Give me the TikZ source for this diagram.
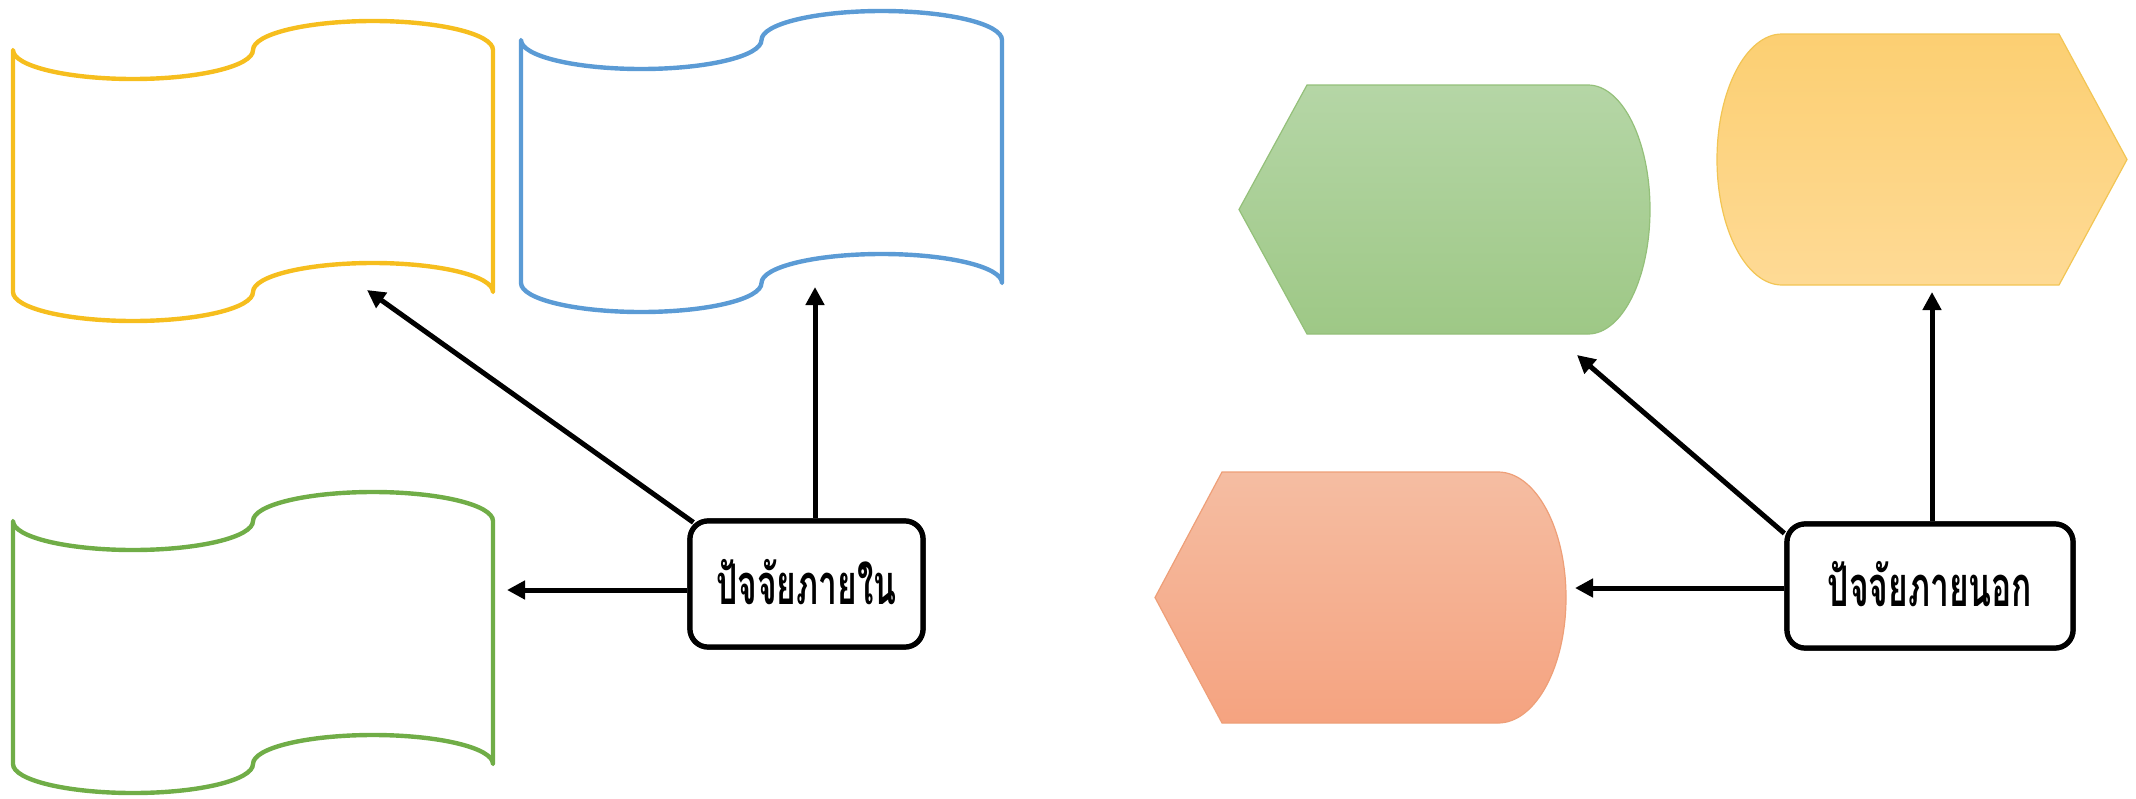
\documentclass[tikz,border=0pt]{standalone}
\usepackage{fontspec}
\newfontfamily\thaifont[Script=Thai]{Loma}
\usetikzlibrary{arrows.meta}
\definecolor{tapeY}{HTML}{F6BE1E}
\definecolor{tapeB}{HTML}{5B9BD5}
\definecolor{tapeG}{HTML}{70AD47}
\definecolor{gTop}{HTML}{B5D6A6}
\definecolor{gBot}{HTML}{9EC886}
\definecolor{gLine}{HTML}{94C07A}
\definecolor{yTop}{HTML}{FCCF72}
\definecolor{yBot}{HTML}{FEDA95}
\definecolor{yLine}{HTML}{F2C554}
\definecolor{oTop}{HTML}{F5BDA2}
\definecolor{oBot}{HTML}{F5A380}
\definecolor{oLine}{HTML}{EE9F78}
\newcommand\tapeshape[5]{%
 \pgfmathsetmacro\tL{#1}\pgfmathsetmacro\tT{#2}\pgfmathsetmacro\tR{#3}\pgfmathsetmacro\tB{#4}%
 \pgfmathsetmacro\tq{(\tR-\tL)/4}\pgfmathsetmacro\tM{(\tL+\tR)/2}%
 \pgfmathsetmacro\ta{29}\pgfmathsetmacro\tk{0.552}%
 \draw[tape,draw=#5] (\tL,\tT)
  .. controls (\tL,{\tT+\tk*\ta}) and ({\tL+\tq-\tk*\tq},{\tT+\ta}) .. ({\tL+\tq},{\tT+\ta})
  .. controls ({\tL+\tq+\tk*\tq},{\tT+\ta}) and (\tM,{\tT+\tk*\ta}) .. (\tM,\tT)
  .. controls (\tM,{\tT-\tk*\ta}) and ({\tM+\tq-\tk*\tq},{\tT-\ta}) .. ({\tM+\tq},{\tT-\ta})
  .. controls ({\tM+\tq+\tk*\tq},{\tT-\ta}) and (\tR,{\tT-\tk*\ta}) .. (\tR,\tT)
  -- (\tR,\tB)
  .. controls (\tR,{\tB-\tk*\ta}) and ({\tM+\tq+\tk*\tq},{\tB-\ta}) .. ({\tM+\tq},{\tB-\ta})
  .. controls ({\tM+\tq-\tk*\tq},{\tB-\ta}) and (\tM,{\tB-\tk*\ta}) .. (\tM,\tB)
  .. controls (\tM,{\tB+\tk*\ta}) and ({\tL+\tq+\tk*\tq},{\tB+\ta}) .. ({\tL+\tq},{\tB+\ta})
  .. controls ({\tL+\tq-\tk*\tq},{\tB+\ta}) and (\tL,{\tB+\tk*\ta}) .. (\tL,\tB)
  -- cycle;}
% display shape pointing left: left point x, flat-left x, flat-right x, right x, top, bottom
\newcommand\dispL[8]{%
 \pgfmathsetmacro\dm{(#5+#6)/2}\pgfmathsetmacro\dr{#4-#3}\pgfmathsetmacro\dh{(#6-#5)/2}%
 \draw[line width=0.6pt,draw=#7,top color=#8] (#1,\dm) -- (#2,#5) -- (#3,#5)
  .. controls ({#3+0.552*\dr},#5) and (#4,{\dm-0.552*\dh}) .. (#4,\dm)
  .. controls (#4,{\dm+0.552*\dh}) and ({#3+0.552*\dr},#6) .. (#3,#6)
  -- (#2,#6) -- cycle;}
\begin{document}
\begin{tikzpicture}[x=0.5pt,y=-0.5pt,
  tape/.style={line width=2.2pt,line join=round},
  arr/.style={line width=2.5pt,-{Triangle[length=9pt,width=9pt]}},
  factor/.style={draw,line width=2.6pt,rounded corners=9pt,fill=white,inner sep=0pt,
    font=\thaifont\bfseries\fontsize{28}{31}\selectfont}]
\useasboundingbox (0,0) rectangle (2136,798);
% tapes
\tapeshape{13}{50}{493}{292}{tapeY}
\tapeshape{521}{40}{1002}{283}{tapeB}
\tapeshape{13}{521}{493}{764}{tapeG}
\path (253,171) node (tapeY) {} (761,161) node (tapeB) {} (253,642) node (tapeG) {};
% display shapes
\dispL{1239}{1307}{1588}{1650}{85}{334}{gLine}{gTop,bottom color=gBot}
\dispL{1155}{1222}{1498}{1566}{472}{723}{oLine}{oTop,bottom color=oBot}
\pgfmathsetmacro\ym{(34+285)/2}
\draw[line width=0.6pt,draw=yLine,top color=yTop,bottom color=yBot]
  (2127,\ym) -- (2059,34) -- (1782,34)
  .. controls ({1782-0.552*65},34) and (1717,{\ym-0.552*125.5}) .. (1717,\ym)
  .. controls (1717,{\ym+0.552*125.5}) and ({1782-0.552*65},285) .. (1782,285)
  -- (2059,285) -- cycle;
\path (1444,208) node (dispG) {} (1920,160) node (dispY) {} (1360,597) node (dispO) {};
% arrow end points
\coordinate (t1) at (367,290);
\coordinate (t2) at (815,287);
\coordinate (t3) at (507,590);
\coordinate (t4) at (1577,355);
\coordinate (t5) at (1932,292);
\coordinate (t6) at (1575,588);
% boxes
\node[factor,minimum width=116.5pt,minimum height=63pt] (inner) at (806.5,584) {\phantom{x}};
\node[factor,minimum width=143pt,minimum height=62pt] (outer) at (1930,586) {\phantom{x}};
\draw[arr] ([shift={(3pt,-2pt)}]inner.north west) -- (t1);
\draw[arr] (inner.north -| t2) -- (t2);
\draw[arr] (inner.west |- t3) -- (t3);
\draw[arr] ([shift={(0pt,-6pt)}]outer.north west) -- (t4);
\draw[arr] (outer.north -| t5) -- (t5);
\draw[arr] (outer.west |- t6) -- (t6);
\node[factor,minimum width=116.5pt,minimum height=63pt] at (inner) {\raisebox{2pt}{\scalebox{0.6}[1]{ปัจจัยภายใน}}};
\node[factor,minimum width=143pt,minimum height=62pt] at (outer) {\raisebox{2pt}{\scalebox{0.6}[1]{ปัจจัยภายนอก}}};
\end{tikzpicture}
\end{document}
